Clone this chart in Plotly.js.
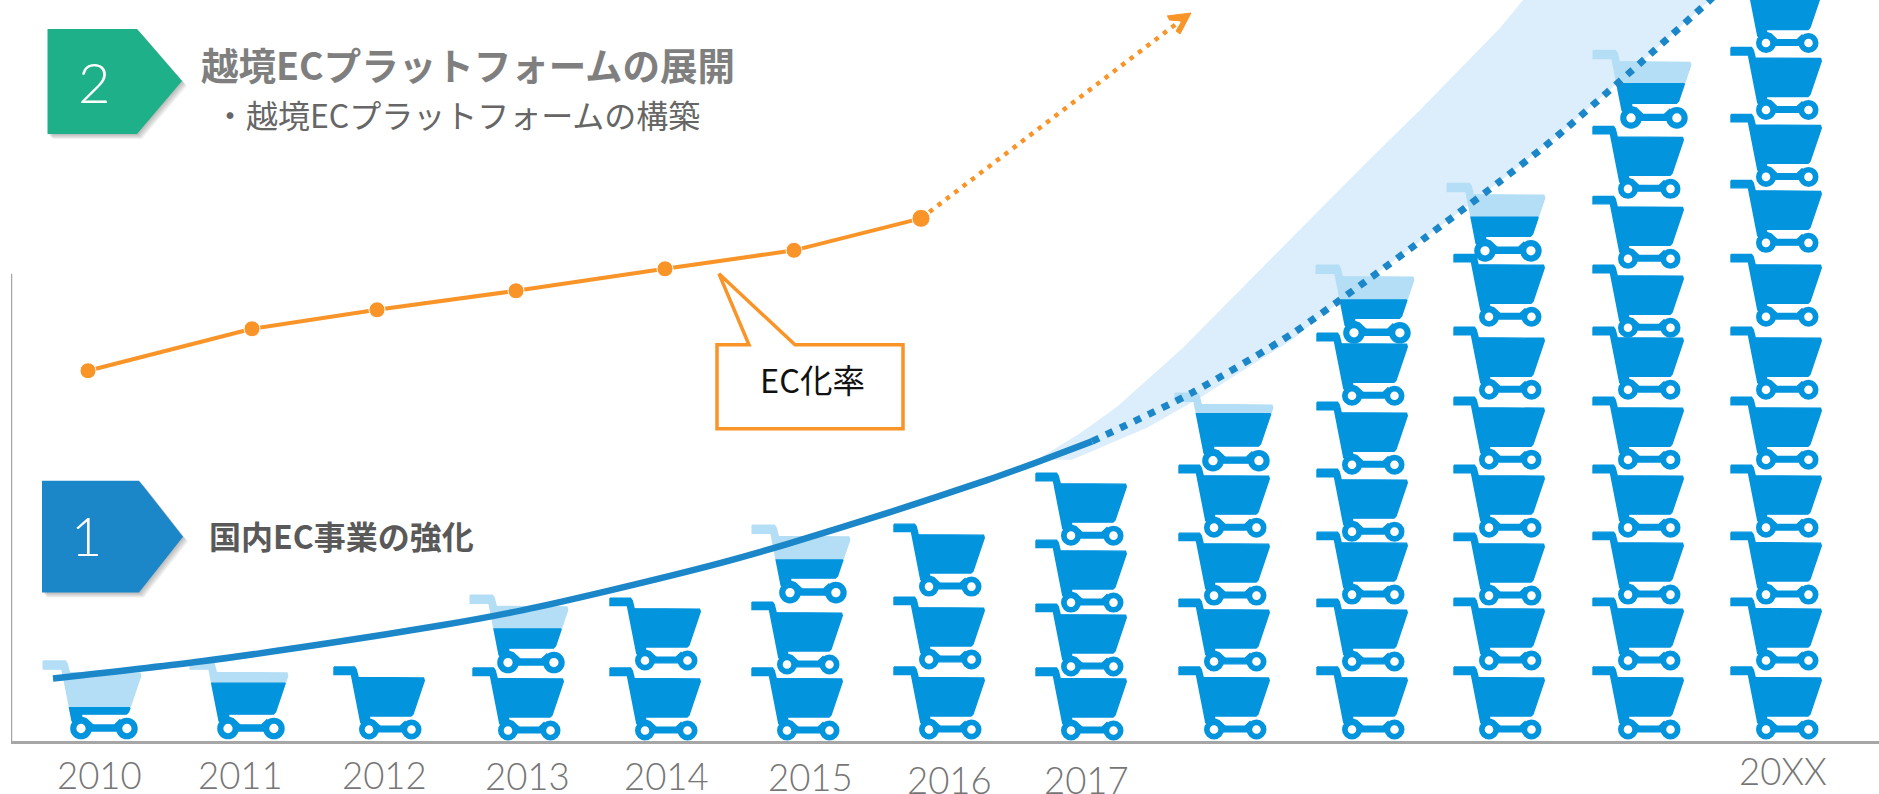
<!DOCTYPE html>
<html lang="ja">
<head>
<meta charset="utf-8">
<title>EC事業の展開</title>
<script src="https://cdn.plot.ly/plotly-3.0.1.min.js"></script>
<style>html,body{margin:0;padding:0;background:#fff}#chart{width:1879px;height:794px}</style>
</head>
<body>
<div id="chart"></div>
<script>
// Column labels along the baseline; the four years before 20XX carry no label.
const yearLabels = ['2010','2011','2012','2013','2014','2015','2016','2017','','','','','20XX'];

// Volume per column, counted in carts. The fraction fills the topmost cart.
const cartValues = [0.4, 0.71, 1, 1.56, 2, 2.55, 3, 4, 4.73, 6.55, 7.56, 9.57, 11];

// EC化率 series, 2010 to 2016, then its projection.
const ecRateX = [88, 252, 377, 516, 665, 794, 921];
const ecRateY = [370.5, 412.5, 431.5, 450.5, 472.5, 491, 523];
const ecProjectionX = [921, 1184];
const ecProjectionY = [523, 723.5];

// Domestic EC trend: measured part, projected part and the range around it.
const trendX = [53, 200, 333, 440, 523, 607, 720, 787, 887, 987, 1037, 1092];
const trendY = [62.5, 79.5, 98.5, 115.5, 131, 150, 178, 197, 228, 261, 279, 299.8];
const projectionX = [1092, 1192, 1292, 1365, 1425, 1498, 1555, 1655, 1710, 1760];
const projectionY = [299.8, 348.5, 407.5, 459.5, 503.5, 558.5, 603.5, 691.5, 741.5, 790];
const rangeUpperX = [1037, 1080, 1117, 1150, 1183, 1267, 1367, 1420, 1500, 1523, 1560];
const rangeUpperY = [281.5, 308, 334.5, 364.5, 393.5, 478.5, 579.5, 631.5, 713.5, 741.5, 780];
const rangeLowerX = [1072, 1147, 1200, 1292];
const rangeLowerY = [281.5, 313.5, 343.5, 401.5];

// Where each column's carts stand: left wheel position and wheel heights, bottom to top.
const columnWheelX = [81, 228, 369, 508, 645, 787, 929, 1071, 1214, 1352, 1489, 1628, 1766];
const topCartShift = [0, 0, 0, 0, 0, 3, 0, 0, -1, 2, -4, 3, 0];
const stackHeights = [
  [12.5], [12.5], [11.5], [10.5, 78.5], [10.5, 80.5], [10.5, 76.5, 148.5],
  [11.5, 81.5, 154.5], [10.5, 74.5, 138.5, 205.5],
  [11.5, 79.5, 145.5, 213.5, 280.5],
  [11.5, 79.5, 146.5, 209.5, 276.5, 345.5, 408.5],
  [11.5, 80.5, 145.5, 213.5, 281.5, 351.5, 424.5, 490.5],
  [11.5, 80.5, 146.5, 213.5, 281.5, 351.5, 413.5, 482.5, 552.5, 623.5],
  [11.5, 80.5, 146.5, 213.5, 281.5, 351.5, 424.5, 498.5, 564.5, 631.5, 698.5]
];
const labelX = [99, 240, 384, 527, 666, 810, 949, 1086, null, null, null, null, 1783];
const labelHeight = [-34, -34, -34, -35, -35, -36, -39.5, -39.5, 0, 0, 0, 0, -30];

const BLUE = '#0394de', PALE = '#b3def5', LINE = '#1b87c9', ORANGE = '#f99428', GREY = '#a6a6a6';

// Cart outline around the left wheel: y points up, one unit is one axis unit.
const cartFrame = [[-35,62.5],[-14.5,62.5],[-12.8,60],[-10.8,52],[54.5,51.5],[55.3,49],[44,15.5],[42,13.5],
  [0.5,13.5],[0.5,10.5],[5,9],[11,3.3],[0,0],[-8.2,7],[-17.6,55],[-35,55]];
const cartAxle = [[0,3.3],[31,3.3],[36,8],[42.5,0],[42.5,-2.3],[0,-2.3]];
const WHEEL_GAP = 42.5, WHEEL_BOTTOM = -10, CART_TOP = 63.3, PARTIAL_SCALE = 1.08;

// Keep the part of a polygon below a horizontal level.
function clipBelow(poly, level) {
  const out = [];
  poly.forEach((p, i) => {
    const q = poly[(i + 1) % poly.length];
    if (p[1] <= level) out.push(p);
    if ((p[1] <= level) !== (q[1] <= level)) {
      const t = (level - p[1]) / (q[1] - p[1]);
      out.push([p[0] + t * (q[0] - p[0]), level]);
    }
  });
  return out;
}

// Append closed polygons to x/y lists, separated by gaps.
function addPoly(target, poly, ox, oy, s) {
  poly.concat([poly[0]]).forEach(p => {
    target.x.push(ox + p[0] * s);
    target.y.push(oy + p[1] * s);
  });
  target.x.push(null);
  target.y.push(null);
}

const pale = {x: [], y: []}, solid = {x: [], y: []};
const wheels = {x: [], y: [], size: [], width: []};

cartValues.forEach((value, col) => {
  const heights = stackHeights[col];
  const fraction = value - Math.floor(value);
  heights.forEach((h, row) => {
    const isTop = row === heights.length - 1 && fraction > 0;
    const s = isTop ? PARTIAL_SCALE : 1;
    const x0 = columnWheelX[col] + (isTop ? topCartShift[col] : 0);
    if (isTop) {
      const level = WHEEL_BOTTOM + fraction * (CART_TOP - WHEEL_BOTTOM);
      addPoly(pale, cartFrame, x0, h, s);
      addPoly(solid, clipBelow(cartFrame, level), x0, h, s);
    } else {
      addPoly(solid, cartFrame, x0, h, s);
    }
    addPoly(solid, cartAxle, x0, h, s);
    [0, WHEEL_GAP * s].forEach(dx => {
      wheels.x.push(x0 + dx);
      wheels.y.push(h);
      wheels.size.push(14.3 * s);
      wheels.width.push(5.7 * s);
    });
  });
});

const traces = [
  {x: rangeUpperX.concat(projectionX.slice(4).reverse(), projectionX.slice(3, 4), rangeLowerX.slice().reverse()),
   y: rangeUpperY.concat(projectionY.slice(4).reverse(), projectionY.slice(3, 4), rangeLowerY.slice().reverse()),
   mode: 'lines', fill: 'toself', fillcolor: '#dceefb', line: {width: 0, color: '#dceefb'}},
  {x: pale.x, y: pale.y, mode: 'lines', fill: 'toself', fillcolor: PALE, line: {color: PALE, width: 1.4}},
  {x: solid.x, y: solid.y, mode: 'lines', fill: 'toself', fillcolor: BLUE, line: {color: BLUE, width: 1.4}},
  {x: wheels.x, y: wheels.y, mode: 'markers',
   marker: {symbol: 'circle', color: '#ffffff', opacity: 1, size: wheels.size, line: {color: BLUE, width: wheels.width}}},
  {x: trendX, y: trendY, mode: 'lines', line: {color: LINE, width: 6.5, shape: 'spline', smoothing: 0.7}},
  {x: projectionX, y: projectionY, mode: 'lines', line: {color: LINE, width: 7, dash: '7.5px,8px', shape: 'spline', smoothing: 0.7}},
  {x: ecProjectionX, y: ecProjectionY, mode: 'lines', line: {color: ORANGE, width: 4.5, dash: '4.5px,6px'}},
  {x: ecRateX, y: ecRateY, mode: 'lines+markers', line: {color: ORANGE, width: 4},
   marker: {color: ORANGE, opacity: 1, size: [16, 16, 16, 16, 16, 16, 18]}}
];

// Arrow head closing the EC化率 projection.
const tipX = ecProjectionX[1] + 7, tipY = ecProjectionY[1] + 5;
traces.push({x: [tipX - 24, tipX, tipX - 11, tipX - 15, tipX - 9, tipX - 22],
             y: [tipY - 3, tipY, tipY - 21, tipY - 18, tipY - 8, tipY - 7],
             mode: 'lines', fill: 'toself', fillcolor: ORANGE, line: {color: ORANGE, width: 1}});

traces.forEach(t => { t.hoverinfo = 'skip'; t.showlegend = false; });

// Baseline height of a page row, so callouts share the chart's axis.
const h = row => 741.5 - row;
function polyPath(pts, dx, dy) {
  return 'M' + pts.map(p => (p[0] + (dx || 0)) + ',' + (h(p[1]) - (dy || 0))).join('L') + 'Z';
}
const badgeOne = [[42,481],[139,481],[183,537],[139,593],[42,593]];
const badgeTwo = [[47.5,29],[137,29],[182,81],[137,134],[47.5,134]];

const shapes = [{type: 'line', xref: 'x', yref: 'y', x0: 11, x1: 11, y0: 0, y1: h(274),
                 line: {color: GREY, width: 2.5}}];
[[badgeOne, '#1b87c9'], [badgeTwo, '#1eb089']].forEach(([pts, colour]) => {
  [5, 4, 3, 2, 1].forEach(off => shapes.push({type: 'path', xref: 'x', yref: 'y', path: polyPath(pts, off, off),
    fillcolor: 'rgba(0,0,0,0.055)', line: {width: 0}, layer: 'below'}));
  shapes.push({type: 'path', xref: 'x', yref: 'y', path: polyPath(pts), fillcolor: colour, line: {width: 0}});
});
shapes.push({type: 'path', xref: 'x', yref: 'y',
  path: polyPath([[719,274],[795,345],[903,345],[903,429],[717,429],[717,345],[749,345]]),
  fillcolor: '#ffffff', line: {color: ORANGE, width: 3.5}});

const THIN = 'Lato, "Open Sans", sans-serif';
const CJK = '"Noto Sans CJK JP", sans-serif';
const note = (x, y, text, font) => ({x: x, y: y, text: text, xref: 'x', yref: 'y', showarrow: false,
  xanchor: font.anchor || 'center', yanchor: 'middle', font: font});

const annotations = [];
yearLabels.forEach((label, i) => {
  if (label) annotations.push({x: labelX[i], y: labelHeight[i] / 741.5, text: label, xref: 'x', yref: 'paper',
    showarrow: false, xanchor: 'center', yanchor: 'middle',
    font: {family: THIN, size: 36.5, color: '#767676', weight: 300}});
});
annotations.push(
  note(86, h(536), '1', {family: THIN, size: 54, color: '#ffffff', weight: 300}),
  note(94, h(82), '2', {family: THIN, size: 56, color: '#ffffff', weight: 300}),
  note(199, h(64), '越境ECプラットフォームの展開', {family: CJK, size: 37.5, color: '#7f7f7f', weight: 700, anchor: 'left'}),
  note(212, h(114), '・越境ECプラットフォームの構築', {family: CJK, size: 32, color: '#666666', anchor: 'left'}),
  note(207, h(535), '国内EC事業の強化', {family: CJK, size: 32, color: '#595959', weight: 700, anchor: 'left'}),
  note(812, h(379), 'EC化率', {family: CJK, size: 32.5, color: '#111111'})
);

const layout = {
  width: 1879, height: 794,
  margin: {l: 11, r: 0, t: 0, b: 52.5, pad: 0},
  paper_bgcolor: '#ffffff', plot_bgcolor: '#ffffff',
  showlegend: false,
  xaxis: {range: [11, 1879], showgrid: false, zeroline: false, showticklabels: false, ticks: '',
          showline: true, linecolor: GREY, linewidth: 2.5, fixedrange: true},
  yaxis: {range: [0, 741.5], showgrid: false, zeroline: false, showticklabels: false, ticks: '',
          showline: false, fixedrange: true},
  shapes: shapes,
  annotations: annotations
};

Plotly.newPlot('chart', traces, layout, {staticPlot: true, displayModeBar: false});
</script>
</body>
</html>
